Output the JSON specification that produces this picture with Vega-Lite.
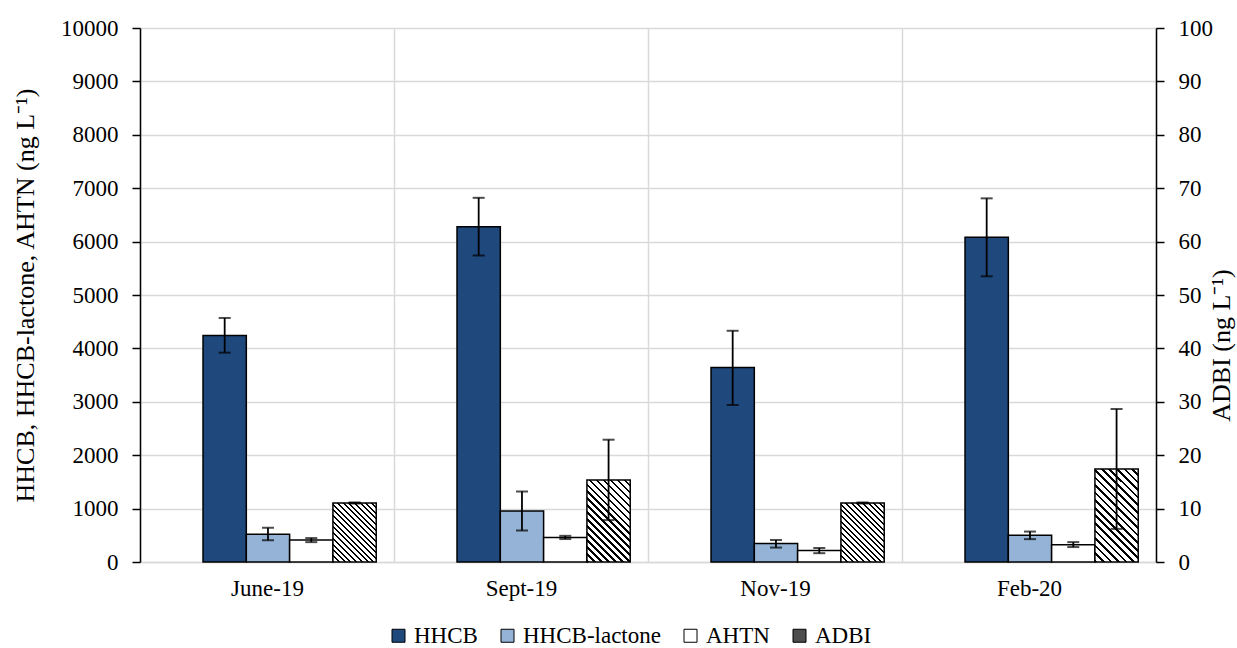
{
  "$schema": "https://vega.github.io/schema/vega-lite/v6.json",
  "width": 1016,
  "height": 534,
  "autosize": {"type": "none"},
  "padding": {"left": 140, "top": 28, "right": 81, "bottom": 86},
  "background": "white",
  "config": {
    "font": "Liberation Serif",
    "view": {"stroke": null},
    "axis": {"labelFont": "Liberation Serif", "titleFont": "Liberation Serif", "labelColor": "#000", "titleColor": "#000", "titleFontWeight": "normal"},
    "legend": {"labelFont": "Liberation Serif", "labelColor": "#000"}
  },
  "datasets": {
    "d": [
      {"month": "June-19", "series": "HHCB", "value": 4240, "lo": 3920, "hi": 4570},
      {"month": "June-19", "series": "HHCB-lactone", "value": 520, "lo": 405, "hi": 640},
      {"month": "June-19", "series": "AHTN", "value": 410, "lo": 372, "hi": 448},
      {"month": "June-19", "series": "ADBI", "value": 11.06, "lo": 10.95, "hi": 11.15},
      {"month": "Sept-19", "series": "HHCB", "value": 6280, "lo": 5740, "hi": 6820},
      {"month": "Sept-19", "series": "HHCB-lactone", "value": 955, "lo": 590, "hi": 1320},
      {"month": "Sept-19", "series": "AHTN", "value": 460, "lo": 430, "hi": 490},
      {"month": "Sept-19", "series": "ADBI", "value": 15.37, "lo": 7.85, "hi": 22.9},
      {"month": "Nov-19", "series": "HHCB", "value": 3640, "lo": 2940, "hi": 4330},
      {"month": "Nov-19", "series": "HHCB-lactone", "value": 345, "lo": 270, "hi": 412},
      {"month": "Nov-19", "series": "AHTN", "value": 215, "lo": 165, "hi": 262},
      {"month": "Nov-19", "series": "ADBI", "value": 11.06, "lo": 10.95, "hi": 11.15},
      {"month": "Feb-20", "series": "HHCB", "value": 6080, "lo": 5350, "hi": 6810},
      {"month": "Feb-20", "series": "HHCB-lactone", "value": 500, "lo": 428, "hi": 570},
      {"month": "Feb-20", "series": "AHTN", "value": 325, "lo": 280, "hi": 372},
      {"month": "Feb-20", "series": "ADBI", "value": 17.43, "lo": 6.2, "hi": 28.65}
    ]
  },
  "data": {"name": "d"},
  "layer": [
    {
      "transform": [{"filter": "datum.series !== 'ADBI'"}],
      "encoding": {
        "x": {
          "field": "month", "type": "nominal",
          "sort": ["June-19", "Sept-19", "Nov-19", "Feb-20"],
          "scale": {"domain": ["June-19", "Sept-19", "Nov-19", "Feb-20"], "paddingInner": 0, "paddingOuter": 0},
          "axis": {"title": null, "orient": "bottom", "labelAngle": 0, "labelFontSize": 23, "labelPadding": 15, "ticks": false, "domainColor": "#d9d9d9", "domainWidth": 1.5, "grid": true, "gridColor": "#d9d9d9", "gridWidth": 1.5, "tickBand": "extent"}
        },
        "xOffset": {
          "field": "series", "type": "nominal",
          "scale": {"domain": ["HHCB", "HHCB-lactone", "AHTN", "ADBI"], "paddingInner": 0, "paddingOuter": 0.933, "align": 0.78}
        }
      },
      "layer": [
        {
          "mark": {"type": "bar", "stroke": "#000", "strokeWidth": 1.5},
          "encoding": {
            "y": {
              "field": "value", "type": "quantitative",
              "scale": {"domain": [0, 10000], "nice": false},
              "axis": {"title": "HHCB, HHCB-lactone, AHTN (ng L⁻¹)", "orient": "left", "values": [0, 1000, 2000, 3000, 4000, 5000, 6000, 7000, 8000, 9000, 10000], "format": "d", "labelFontSize": 23, "titleFontSize": 26, "titlePadding": 22, "tickSize": 8, "tickColor": "#000", "tickWidth": 1.5, "labelPadding": 14, "domainColor": "#000", "domainWidth": 1.5, "grid": true, "gridColor": "#d9d9d9", "gridWidth": 1.5}
            },
            "color": {
              "field": "series", "type": "nominal",
              "scale": {"domain": ["HHCB", "HHCB-lactone", "AHTN", "ADBI"], "range": ["#1f497d", "#95b3d7", "#ffffff", "#4d4d4d"]},
              "legend": {"title": null, "orient": "none", "legendX": 247, "legendY": 596, "direction": "horizontal", "symbolType": "square", "symbolSize": 169, "symbolStrokeColor": "#000", "symbolStrokeWidth": 1, "labelFontSize": 23, "labelOffset": 4, "columnPadding": 18, "padding": 0}
            }
          }
        },
        {
          "mark": {"type": "rule", "color": "#000", "strokeWidth": 1.8},
          "encoding": {
            "y": {"field": "lo", "type": "quantitative"},
            "y2": {"field": "hi"}
          }
        },
        {
          "mark": {"type": "tick", "color": "#000", "thickness": 2, "size": 12},
          "encoding": {"y": {"field": "lo", "type": "quantitative"}}
        },
        {
          "mark": {"type": "tick", "color": "#000", "thickness": 2, "size": 12},
          "encoding": {"y": {"field": "hi", "type": "quantitative"}}
        }
      ]
    },
    {
      "transform": [{"filter": "datum.series === 'ADBI'"}],
      "encoding": {
        "x": {"field": "month", "type": "nominal", "sort": ["June-19", "Sept-19", "Nov-19", "Feb-20"]},
        "xOffset": {
          "field": "series", "type": "nominal",
          "scale": {"domain": ["HHCB", "HHCB-lactone", "AHTN", "ADBI"], "paddingInner": 0, "paddingOuter": 0.933, "align": 0.78}
        }
      },
      "layer": [
        {
          "mark": {"type": "bar", "stroke": "#000", "strokeWidth": 1.5},
          "encoding": {
            "y": {
              "field": "value", "type": "quantitative",
              "scale": {"domain": [0, 100], "nice": false},
              "axis": {"title": "ADBI (ng L⁻¹)", "orient": "right", "values": [0, 10, 20, 30, 40, 50, 60, 70, 80, 90, 100], "format": "d", "labelFontSize": 23, "titleFontSize": 26, "titleAngle": 270, "titlePadding": 22, "titleY": 317, "tickSize": 8, "tickColor": "#000", "tickWidth": 1.5, "labelPadding": 14, "domainColor": "#000", "domainWidth": 1.5, "grid": false}
            },
            "fill": {
              "condition": [
                {"test": "datum.month === 'Sept-19'", "value": {"gradient": "linear", "x1": 0, "y1": 1, "x2": 0.6303, "y2": -0.195, "stops": [{"offset":0,"color":"#000"},{"offset":0.0194,"color":"#000"},{"offset":0.0194,"color":"#fff"},{"offset":0.0556,"color":"#fff"},{"offset":0.0556,"color":"#000"},{"offset":0.075,"color":"#000"},{"offset":0.075,"color":"#fff"},{"offset":0.1111,"color":"#fff"},{"offset":0.1111,"color":"#000"},{"offset":0.1306,"color":"#000"},{"offset":0.1306,"color":"#fff"},{"offset":0.1667,"color":"#fff"},{"offset":0.1667,"color":"#000"},{"offset":0.1861,"color":"#000"},{"offset":0.1861,"color":"#fff"},{"offset":0.2222,"color":"#fff"},{"offset":0.2222,"color":"#000"},{"offset":0.2417,"color":"#000"},{"offset":0.2417,"color":"#fff"},{"offset":0.2778,"color":"#fff"},{"offset":0.2778,"color":"#000"},{"offset":0.2972,"color":"#000"},{"offset":0.2972,"color":"#fff"},{"offset":0.3333,"color":"#fff"},{"offset":0.3333,"color":"#000"},{"offset":0.3528,"color":"#000"},{"offset":0.3528,"color":"#fff"},{"offset":0.3889,"color":"#fff"},{"offset":0.3889,"color":"#000"},{"offset":0.4083,"color":"#000"},{"offset":0.4083,"color":"#fff"},{"offset":0.4444,"color":"#fff"},{"offset":0.4444,"color":"#000"},{"offset":0.4639,"color":"#000"},{"offset":0.4639,"color":"#fff"},{"offset":0.5,"color":"#fff"},{"offset":0.5,"color":"#000"},{"offset":0.5194,"color":"#000"},{"offset":0.5194,"color":"#fff"},{"offset":0.5556,"color":"#fff"},{"offset":0.5556,"color":"#000"},{"offset":0.575,"color":"#000"},{"offset":0.575,"color":"#fff"},{"offset":0.6111,"color":"#fff"},{"offset":0.6111,"color":"#000"},{"offset":0.6306,"color":"#000"},{"offset":0.6306,"color":"#fff"},{"offset":0.6667,"color":"#fff"},{"offset":0.6667,"color":"#000"},{"offset":0.6861,"color":"#000"},{"offset":0.6861,"color":"#fff"},{"offset":0.7222,"color":"#fff"},{"offset":0.7222,"color":"#000"},{"offset":0.7417,"color":"#000"},{"offset":0.7417,"color":"#fff"},{"offset":0.7778,"color":"#fff"},{"offset":0.7778,"color":"#000"},{"offset":0.7972,"color":"#000"},{"offset":0.7972,"color":"#fff"},{"offset":0.8333,"color":"#fff"},{"offset":0.8333,"color":"#000"},{"offset":0.8528,"color":"#000"},{"offset":0.8528,"color":"#fff"},{"offset":0.8889,"color":"#fff"},{"offset":0.8889,"color":"#000"},{"offset":0.9083,"color":"#000"},{"offset":0.9083,"color":"#fff"},{"offset":0.9444,"color":"#fff"},{"offset":0.9444,"color":"#000"},{"offset":0.9639,"color":"#000"},{"offset":0.9639,"color":"#fff"},{"offset":1,"color":"#fff"}]}},
                {"test": "datum.month === 'Feb-20'", "value": {"gradient": "linear", "x1": 0, "y1": 1, "x2": 0.5602, "y2": -0.2046, "stops": [{"offset":0,"color":"#000"},{"offset":0.0194,"color":"#000"},{"offset":0.0194,"color":"#fff"},{"offset":0.0556,"color":"#fff"},{"offset":0.0556,"color":"#000"},{"offset":0.075,"color":"#000"},{"offset":0.075,"color":"#fff"},{"offset":0.1111,"color":"#fff"},{"offset":0.1111,"color":"#000"},{"offset":0.1306,"color":"#000"},{"offset":0.1306,"color":"#fff"},{"offset":0.1667,"color":"#fff"},{"offset":0.1667,"color":"#000"},{"offset":0.1861,"color":"#000"},{"offset":0.1861,"color":"#fff"},{"offset":0.2222,"color":"#fff"},{"offset":0.2222,"color":"#000"},{"offset":0.2417,"color":"#000"},{"offset":0.2417,"color":"#fff"},{"offset":0.2778,"color":"#fff"},{"offset":0.2778,"color":"#000"},{"offset":0.2972,"color":"#000"},{"offset":0.2972,"color":"#fff"},{"offset":0.3333,"color":"#fff"},{"offset":0.3333,"color":"#000"},{"offset":0.3528,"color":"#000"},{"offset":0.3528,"color":"#fff"},{"offset":0.3889,"color":"#fff"},{"offset":0.3889,"color":"#000"},{"offset":0.4083,"color":"#000"},{"offset":0.4083,"color":"#fff"},{"offset":0.4444,"color":"#fff"},{"offset":0.4444,"color":"#000"},{"offset":0.4639,"color":"#000"},{"offset":0.4639,"color":"#fff"},{"offset":0.5,"color":"#fff"},{"offset":0.5,"color":"#000"},{"offset":0.5194,"color":"#000"},{"offset":0.5194,"color":"#fff"},{"offset":0.5556,"color":"#fff"},{"offset":0.5556,"color":"#000"},{"offset":0.575,"color":"#000"},{"offset":0.575,"color":"#fff"},{"offset":0.6111,"color":"#fff"},{"offset":0.6111,"color":"#000"},{"offset":0.6306,"color":"#000"},{"offset":0.6306,"color":"#fff"},{"offset":0.6667,"color":"#fff"},{"offset":0.6667,"color":"#000"},{"offset":0.6861,"color":"#000"},{"offset":0.6861,"color":"#fff"},{"offset":0.7222,"color":"#fff"},{"offset":0.7222,"color":"#000"},{"offset":0.7417,"color":"#000"},{"offset":0.7417,"color":"#fff"},{"offset":0.7778,"color":"#fff"},{"offset":0.7778,"color":"#000"},{"offset":0.7972,"color":"#000"},{"offset":0.7972,"color":"#fff"},{"offset":0.8333,"color":"#fff"},{"offset":0.8333,"color":"#000"},{"offset":0.8528,"color":"#000"},{"offset":0.8528,"color":"#fff"},{"offset":0.8889,"color":"#fff"},{"offset":0.8889,"color":"#000"},{"offset":0.9083,"color":"#000"},{"offset":0.9083,"color":"#fff"},{"offset":0.9444,"color":"#fff"},{"offset":0.9444,"color":"#000"},{"offset":0.9639,"color":"#000"},{"offset":0.9639,"color":"#fff"},{"offset":1,"color":"#fff"}]}}
              ],
              "value": {"gradient": "linear", "x1": 0, "y1": 1, "x2": 0.8264, "y2": -0.1273, "stops": [{"offset":0,"color":"#000"},{"offset":0.0194,"color":"#000"},{"offset":0.0194,"color":"#fff"},{"offset":0.0556,"color":"#fff"},{"offset":0.0556,"color":"#000"},{"offset":0.075,"color":"#000"},{"offset":0.075,"color":"#fff"},{"offset":0.1111,"color":"#fff"},{"offset":0.1111,"color":"#000"},{"offset":0.1306,"color":"#000"},{"offset":0.1306,"color":"#fff"},{"offset":0.1667,"color":"#fff"},{"offset":0.1667,"color":"#000"},{"offset":0.1861,"color":"#000"},{"offset":0.1861,"color":"#fff"},{"offset":0.2222,"color":"#fff"},{"offset":0.2222,"color":"#000"},{"offset":0.2417,"color":"#000"},{"offset":0.2417,"color":"#fff"},{"offset":0.2778,"color":"#fff"},{"offset":0.2778,"color":"#000"},{"offset":0.2972,"color":"#000"},{"offset":0.2972,"color":"#fff"},{"offset":0.3333,"color":"#fff"},{"offset":0.3333,"color":"#000"},{"offset":0.3528,"color":"#000"},{"offset":0.3528,"color":"#fff"},{"offset":0.3889,"color":"#fff"},{"offset":0.3889,"color":"#000"},{"offset":0.4083,"color":"#000"},{"offset":0.4083,"color":"#fff"},{"offset":0.4444,"color":"#fff"},{"offset":0.4444,"color":"#000"},{"offset":0.4639,"color":"#000"},{"offset":0.4639,"color":"#fff"},{"offset":0.5,"color":"#fff"},{"offset":0.5,"color":"#000"},{"offset":0.5194,"color":"#000"},{"offset":0.5194,"color":"#fff"},{"offset":0.5556,"color":"#fff"},{"offset":0.5556,"color":"#000"},{"offset":0.575,"color":"#000"},{"offset":0.575,"color":"#fff"},{"offset":0.6111,"color":"#fff"},{"offset":0.6111,"color":"#000"},{"offset":0.6306,"color":"#000"},{"offset":0.6306,"color":"#fff"},{"offset":0.6667,"color":"#fff"},{"offset":0.6667,"color":"#000"},{"offset":0.6861,"color":"#000"},{"offset":0.6861,"color":"#fff"},{"offset":0.7222,"color":"#fff"},{"offset":0.7222,"color":"#000"},{"offset":0.7417,"color":"#000"},{"offset":0.7417,"color":"#fff"},{"offset":0.7778,"color":"#fff"},{"offset":0.7778,"color":"#000"},{"offset":0.7972,"color":"#000"},{"offset":0.7972,"color":"#fff"},{"offset":0.8333,"color":"#fff"},{"offset":0.8333,"color":"#000"},{"offset":0.8528,"color":"#000"},{"offset":0.8528,"color":"#fff"},{"offset":0.8889,"color":"#fff"},{"offset":0.8889,"color":"#000"},{"offset":0.9083,"color":"#000"},{"offset":0.9083,"color":"#fff"},{"offset":0.9444,"color":"#fff"},{"offset":0.9444,"color":"#000"},{"offset":0.9639,"color":"#000"},{"offset":0.9639,"color":"#fff"},{"offset":1,"color":"#fff"}]}
            }
          }
        },
        {
          "mark": {"type": "rule", "color": "#000", "strokeWidth": 1.8},
          "encoding": {
            "y": {"field": "lo", "type": "quantitative"},
            "y2": {"field": "hi"}
          }
        },
        {
          "mark": {"type": "tick", "color": "#000", "thickness": 2, "size": 12},
          "encoding": {"y": {"field": "lo", "type": "quantitative"}}
        },
        {
          "mark": {"type": "tick", "color": "#000", "thickness": 2, "size": 12},
          "encoding": {"y": {"field": "hi", "type": "quantitative"}}
        }
      ]
    }
  ],
  "resolve": {"scale": {"y": "independent"}}
}
